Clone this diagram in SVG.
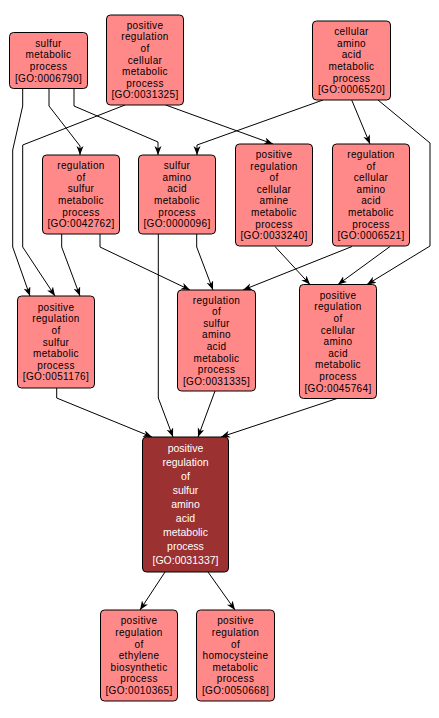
<svg xmlns="http://www.w3.org/2000/svg" width="439" height="718" viewBox="0 0 439 718">
<style>
.n rect{fill:#ff8989;stroke:#000;stroke-width:1}
.n text{font-family:"Liberation Sans",Arial,sans-serif;font-size:10px;letter-spacing:0.35px;fill:#000;text-anchor:middle}
#n11 rect{fill:#9b3131}
#n11 text{fill:#fff;font-size:10.5px;letter-spacing:0}
.e path{fill:none;stroke:#000;stroke-width:1;marker-end:url(#ah)}
</style>
<defs>
<marker id="ah" markerUnits="userSpaceOnUse" markerWidth="10" markerHeight="8" refX="9" refY="3.5" orient="auto">
<path d="M0,0 L9,3.5 L0,7 L2.5,3.5 z" fill="#000"/>
</marker>
</defs>
<rect width="439" height="718" fill="#fff"/>
<g id="edges" class="e">
<path d="M22.7,88 L22.7,106 L12.7,150 L12.7,247 L30,296"/>
<path d="M49,88 L49,106 L80,146 L80,155"/>
<path d="M74,88 L74,106 L158,142 L158,155"/>
<path d="M125,105 L22.7,145 L22.7,247 L55,296"/>
<path d="M165.7,105 L273,144"/>
<path d="M323,100 L197,145 L197,155"/>
<path d="M351.7,100 L370,144"/>
<path d="M378,100 L430,143 L430,246 L367,284.5"/>
<path d="M61.7,234 L61.7,247 L80,296"/>
<path d="M100,234 L100,247 L190,290"/>
<path d="M158.3,234 L158.3,398 L173,437"/>
<path d="M196.7,234 L196.7,247 L213,290"/>
<path d="M275,246.5 L310,284.5"/>
<path d="M352,246.5 L243,290"/>
<path d="M390,246.5 L338,284.5"/>
<path d="M56.7,388 L56.7,398 L152,437"/>
<path d="M215,391 L198,437"/>
<path d="M337,398.5 L221,437"/>
<path d="M165,572 L140,610"/>
<path d="M208,572 L235,610"/>
</g>
<g id="n1" class="n"><rect x="9.5" y="32.5" width="78" height="56" rx="4"/>
<text><tspan x="48.5" y="46.7">sulfur</tspan><tspan x="48.5" y="58.3">metabolic</tspan><tspan x="48.5" y="69.9">process</tspan><tspan x="48.5" y="81.5">[GO:0006790]</tspan></text></g>
<g id="n2" class="n"><rect x="106.5" y="15" width="77" height="90" rx="4"/>
<text><tspan x="145" y="28.8">positive</tspan><tspan x="145" y="40.4">regulation</tspan><tspan x="145" y="52">of</tspan><tspan x="145" y="63.6">cellular</tspan><tspan x="145" y="75.2">metabolic</tspan><tspan x="145" y="86.8">process</tspan><tspan x="145" y="98.4">[GO:0031325]</tspan></text></g>
<g id="n3" class="n"><rect x="312.5" y="21" width="78" height="79" rx="4"/>
<text><tspan x="351.5" y="35.1">cellular</tspan><tspan x="351.5" y="46.7">amino</tspan><tspan x="351.5" y="58.3">acid</tspan><tspan x="351.5" y="69.9">metabolic</tspan><tspan x="351.5" y="81.5">process</tspan><tspan x="351.5" y="93.1">[GO:0006520]</tspan></text></g>
<g id="n4" class="n"><rect x="42.5" y="155" width="77" height="79" rx="4"/>
<text><tspan x="81" y="169.1">regulation</tspan><tspan x="81" y="180.7">of</tspan><tspan x="81" y="192.3">sulfur</tspan><tspan x="81" y="203.9">metabolic</tspan><tspan x="81" y="215.5">process</tspan><tspan x="81" y="227.1">[GO:0042762]</tspan></text></g>
<g id="n5" class="n"><rect x="138.5" y="155" width="77" height="79" rx="4"/>
<text><tspan x="177" y="169.1">sulfur</tspan><tspan x="177" y="180.7">amino</tspan><tspan x="177" y="192.3">acid</tspan><tspan x="177" y="203.9">metabolic</tspan><tspan x="177" y="215.5">process</tspan><tspan x="177" y="227.1">[GO:0000096]</tspan></text></g>
<g id="n6" class="n"><rect x="235.5" y="144" width="77" height="102" rx="4"/>
<text><tspan x="274" y="158">positive</tspan><tspan x="274" y="169.6">regulation</tspan><tspan x="274" y="181.2">of</tspan><tspan x="274" y="192.8">cellular</tspan><tspan x="274" y="204.4">amine</tspan><tspan x="274" y="216">metabolic</tspan><tspan x="274" y="227.6">process</tspan><tspan x="274" y="239.2">[GO:0033240]</tspan></text></g>
<g id="n7" class="n"><rect x="332.5" y="144" width="77" height="102" rx="4"/>
<text><tspan x="371" y="158">regulation</tspan><tspan x="371" y="169.6">of</tspan><tspan x="371" y="181.2">cellular</tspan><tspan x="371" y="192.8">amino</tspan><tspan x="371" y="204.4">acid</tspan><tspan x="371" y="216">metabolic</tspan><tspan x="371" y="227.6">process</tspan><tspan x="371" y="239.2">[GO:0006521]</tspan></text></g>
<g id="n8" class="n"><rect x="17.5" y="296" width="77" height="92" rx="4"/>
<text><tspan x="56" y="310.8">positive</tspan><tspan x="56" y="322.4">regulation</tspan><tspan x="56" y="334">of</tspan><tspan x="56" y="345.6">sulfur</tspan><tspan x="56" y="357.2">metabolic</tspan><tspan x="56" y="368.8">process</tspan><tspan x="56" y="380.4">[GO:0051176]</tspan></text></g>
<g id="n9" class="n"><rect x="177.5" y="290" width="78" height="101" rx="4"/>
<text><tspan x="216.5" y="303.5">regulation</tspan><tspan x="216.5" y="315.1">of</tspan><tspan x="216.5" y="326.7">sulfur</tspan><tspan x="216.5" y="338.3">amino</tspan><tspan x="216.5" y="349.9">acid</tspan><tspan x="216.5" y="361.5">metabolic</tspan><tspan x="216.5" y="373.1">process</tspan><tspan x="216.5" y="384.7">[GO:0031335]</tspan></text></g>
<g id="n10" class="n"><rect x="299.5" y="284.5" width="77" height="114" rx="4"/>
<text><tspan x="338" y="298.7">positive</tspan><tspan x="338" y="310.3">regulation</tspan><tspan x="338" y="321.9">of</tspan><tspan x="338" y="333.5">cellular</tspan><tspan x="338" y="345.1">amino</tspan><tspan x="338" y="356.7">acid</tspan><tspan x="338" y="368.3">metabolic</tspan><tspan x="338" y="379.9">process</tspan><tspan x="338" y="391.5">[GO:0045764]</tspan></text></g>
<g id="n11" class="n"><rect x="142.5" y="437" width="86" height="135" rx="4"/>
<text><tspan x="185.5" y="452.3">positive</tspan><tspan x="185.5" y="466.3">regulation</tspan><tspan x="185.5" y="480.3">of</tspan><tspan x="185.5" y="494.3">sulfur</tspan><tspan x="185.5" y="508.3">amino</tspan><tspan x="185.5" y="522.3">acid</tspan><tspan x="185.5" y="536.3">metabolic</tspan><tspan x="185.5" y="550.3">process</tspan><tspan x="185.5" y="564.3">[GO:0031337]</tspan></text></g>
<g id="n12" class="n"><rect x="100.5" y="610" width="77" height="91" rx="4"/>
<text><tspan x="139" y="624.3">positive</tspan><tspan x="139" y="635.9">regulation</tspan><tspan x="139" y="647.5">of</tspan><tspan x="139" y="659.1">ethylene</tspan><tspan x="139" y="670.7">biosynthetic</tspan><tspan x="139" y="682.3">process</tspan><tspan x="139" y="693.9">[GO:0010365]</tspan></text></g>
<g id="n13" class="n"><rect x="196.5" y="610" width="78" height="91" rx="4"/>
<text><tspan x="235.5" y="624.3">positive</tspan><tspan x="235.5" y="635.9">regulation</tspan><tspan x="235.5" y="647.5">of</tspan><tspan x="235.5" y="659.1">homocysteine</tspan><tspan x="235.5" y="670.7">metabolic</tspan><tspan x="235.5" y="682.3">process</tspan><tspan x="235.5" y="693.9">[GO:0050668]</tspan></text></g>
</svg>
